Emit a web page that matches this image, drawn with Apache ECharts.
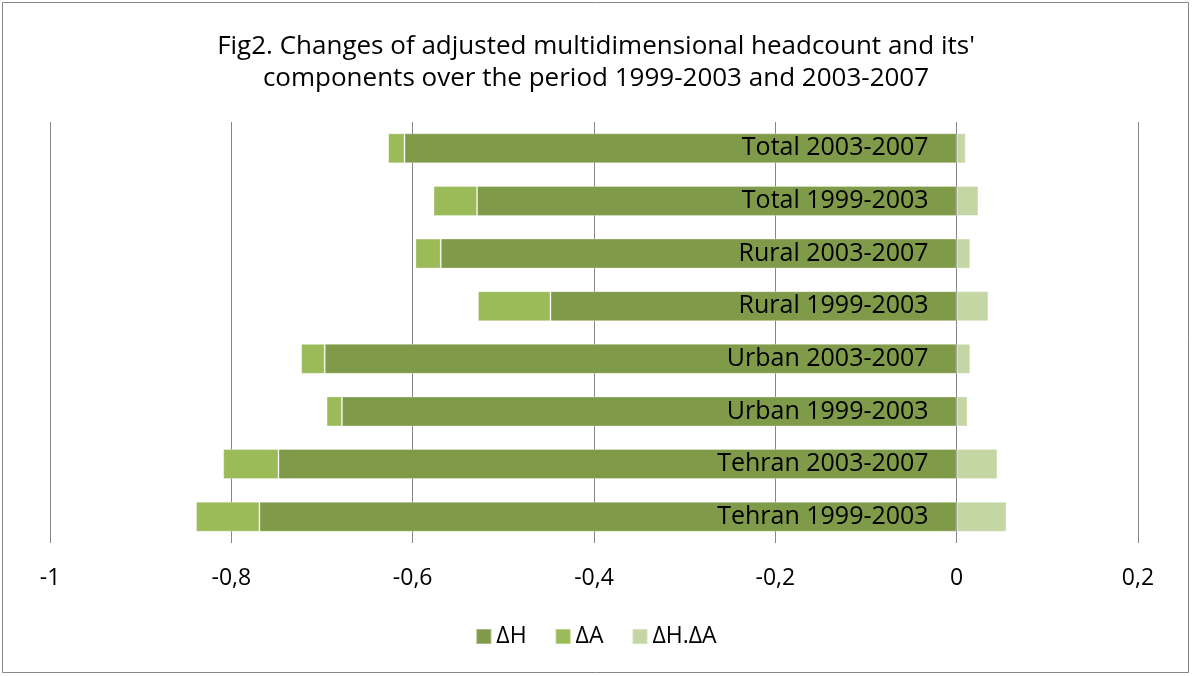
<!DOCTYPE html>
<html>
<head>
<meta charset="utf-8">
<script src="https://cdn.jsdelivr.net/npm/echarts@6/dist/echarts.min.js"></script>
<style>
html,body{margin:0;padding:0;background:#fff;}
#c{width:1192px;height:676px;}
</style>
</head>
<body>
<div id="c"></div>
<script>
var categories = ['Tehran 1999-2003','Tehran 2003-2007','Urban 1999-2003','Urban 2003-2007','Rural 1999-2003','Rural 2003-2007','Total 1999-2003','Total 2003-2007'];
var dH  = [-0.769,-0.748,-0.678,-0.697,-0.448,-0.569,-0.529,-0.609];
var dA  = [-0.070,-0.061,-0.017,-0.026,-0.080,-0.028,-0.048,-0.018];
var dHA = [0.055,0.045,0.012,0.015,0.035,0.015,0.024,0.010];
var tickLabels = ['-1','-0,8','-0,6','-0,4','-0,2','0','0,2'];
var seriesNames = ['\u0394H','\u0394A','\u0394H.\u0394A'];

var FONT = '"Open Sans", sans-serif';
var GRID_LEFT = 50;
var chart = echarts.init(document.getElementById('c'));
var barStyle = {borderColor:'rgba(255,255,255,0.3)',borderWidth:1};
chart.setOption({
  animation:false,
  textStyle:{fontFamily:FONT},
  color:['#7f9a48','#9bbb59','#c4d6a4'],
  title:{
    text:'Fig2. Changes of adjusted multidimensional headcount and its\'\ncomponents over the period 1999-2003 and 2003-2007',
    left:'center', top:26,
    textStyle:{fontFamily:FONT,fontSize:26,fontWeight:'normal',color:'#000',lineHeight:32}
  },
  legend:{
    bottom:23, left:'center',
    itemWidth:15,itemHeight:15,itemGap:28,
    icon:'rect',
    textStyle:{fontFamily:FONT,fontSize:23,color:'#000'},
    data:seriesNames
  },
  graphic:[{type:'rect',shape:{x:2.5,y:2.5,width:1186,height:670},style:{fill:null,stroke:'#868686',lineWidth:1},silent:true}],
  grid:{left:GRID_LEFT,right:54,top:122,bottom:133,containLabel:false,outerBoundsMode:'none'},
  xAxis:{
    type:'value',min:-1,max:0.2,interval:0.2,
    axisLine:{show:false},axisTick:{show:false},
    splitLine:{show:true,lineStyle:{color:'#868686',width:1}},
    axisLabel:{margin:24,fontSize:23,color:'#000',fontFamily:FONT,
      formatter:function(v){return tickLabels[Math.round((v+1)/0.2)];}}
  },
  yAxis:{
    type:'category',data:categories,z:10,position:'left',
    axisLine:{show:false},axisTick:{show:false},
    axisLabel:{margin:28,fontSize:25,color:'#000',fontFamily:FONT}
  },
  series:[
    {name:seriesNames[0],type:'bar',stack:'s',data:dH,barWidth:30,itemStyle:barStyle},
    {name:seriesNames[1],type:'bar',stack:'s',data:dA,barWidth:30,itemStyle:barStyle},
    {name:seriesNames[2],type:'bar',stack:'s',data:dHA,barWidth:30,itemStyle:barStyle}
  ]
});
var zeroX = chart.convertToPixel({xAxisIndex:0}, 0);
chart.setOption({yAxis:{offset: -(zeroX - GRID_LEFT)}});
</script>
</body>
</html>
